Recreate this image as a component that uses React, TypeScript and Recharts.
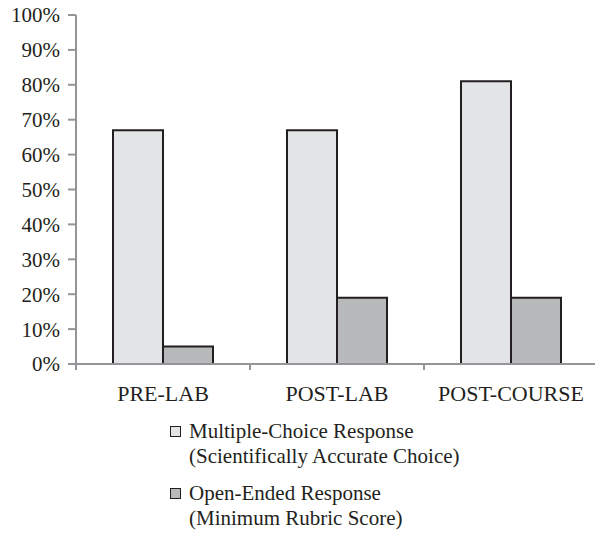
import { BarChart, Bar, XAxis, YAxis, Legend } from "recharts";

const phases = ["PRE-LAB", "POST-LAB", "POST-COURSE"];
const multipleChoice = [67, 67, 81];
const openEnded = [5, 19, 19];
const yTicks = [0, 10, 20, 30, 40, 50, 60, 70, 80, 90, 100];
const seriesNames = [
  "Multiple-Choice Response\n(Scientifically Accurate Choice)",
  "Open-Ended Response\n(Minimum Rubric Score)",
];

const data = phases.map((phase, i) => ({
  phase,
  mc: multipleChoice[i],
  oe: openEnded[i],
}));

const FONT = '"Liberation Serif", "Times New Roman", serif';
const INK = "#231f20";
const AXIS = "#939598";
const LIGHT = "#e3e4e6";
const DARK = "#b8b9bb";

// label centred in the band, tick mark on the band's left edge
const PhaseTick = (props: any) => {
  const { x, y, payload } = props;
  const half = payload && payload.offset ? payload.offset : 87;
  return (
    <g>
      <line x1={x - half} x2={x - half} y1={y - 21} y2={y - 15} stroke={AXIS} strokeWidth={2} />
      <text x={x} y={y} dy="0.71em" textAnchor="middle" fill={INK} fontSize={22} fontFamily={FONT}>
        {payload.value}
      </text>
    </g>
  );
};

const LegendBox = (props: any) => {
  const items = props.payload || [];
  return (
    <div style={{ height: 120, paddingLeft: 170, paddingTop: 3, boxSizing: "border-box", textAlign: "left" }}>
      {items.map((entry: any, i: number) => {
        const lines = String(entry.value).split("\n");
        return (
          <div
            key={i}
            style={{
              position: "relative",
              paddingLeft: 19,
              marginBottom: 12,
              fontFamily: FONT,
              fontSize: 21,
              lineHeight: "25px",
              color: INK,
              whiteSpace: "nowrap",
            }}
          >
            <span
              style={{
                position: "absolute",
                left: 0,
                top: 7,
                width: 11,
                height: 11,
                boxSizing: "border-box",
                border: `1.5px solid ${INK}`,
                background: entry.color,
              }}
            />
            {lines.map((l, j) => (
              <div key={j}>{l}</div>
            ))}
          </div>
        );
      })}
    </div>
  );
};

export default function App() {
  return (
    <div style={{ position: "absolute", left: 0, top: 0, width: 595, height: 536, overflow: "hidden", background: "#fff" }}>
      <BarChart
        width={598}
        height={536}
        data={data}
        margin={{ top: 15, right: 0, bottom: 0, left: 0 }}
        barGap={0}
        barSize={50}
      >
        <XAxis
          dataKey="phase"
          height={52}
          axisLine={{ stroke: AXIS, strokeWidth: 2 }}
          tickLine={false}
          tickSize={6}
          tickMargin={15}
          tick={<PhaseTick />}
          interval={0}
        />
        <YAxis
          width={76}
          domain={[0, 100]}
          ticks={yTicks}
          interval={0}
          tickFormatter={(v) => `${v}%`}
          axisLine={{ stroke: AXIS, strokeWidth: 2 }}
          tickLine={{ stroke: AXIS, strokeWidth: 2 }}
          tickSize={8}
          tickMargin={8}
          tick={{ fill: INK, fontSize: 21, fontFamily: FONT }}
        />
        <Legend verticalAlign="bottom" content={<LegendBox />} />
        <Bar dataKey="mc" name={seriesNames[0]} fill={LIGHT} stroke={INK} strokeWidth={2} isAnimationActive={false} />
        <Bar dataKey="oe" name={seriesNames[1]} fill={DARK} stroke={INK} strokeWidth={2} isAnimationActive={false} />
      </BarChart>
    </div>
  );
}
